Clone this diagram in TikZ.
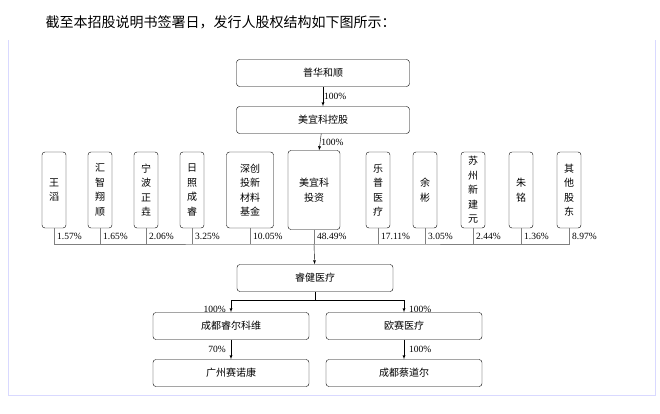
\documentclass[tikz,border=0pt]{standalone}
\usepackage{fontspec}
\setmainfont{Liberation Serif}
\newfontfamily\cjk{Noto Sans CJK SC}
\usetikzlibrary{positioning, calc}

\begin{document}
\begin{tikzpicture}[
    x=1pt, y=-1pt,
    font=\fontsize{9.5}{11}\selectfont,
    wide/.style={
      draw, rounded corners=3pt, align=center, minimum width=156pt, minimum height=27pt, font=\cjk\fontsize{10}{11}\selectfont
    },
    narrow/.style={
      draw, rounded corners=3pt, align=center, minimum width=24pt, minimum height=76pt, inner sep=1pt, font=\cjk\fontsize{10}{14.5}\selectfont
    },
    pct/.style={
      inner sep=1pt, font=\fontsize{9.5}{11}\selectfont
    },
    >=latex,
  ]
    \useasboundingbox (0,0) rectangle (660,413);
    \draw [blue!15, line width=1pt] (8,40) -- (8,395) -- (655,395) -- (655,40);

    % title
    \node [anchor=west] (title) at (42,22) {\cjk\fontsize{14}{16}\selectfont 截至本招股说明书签署日，发行人股权结构如下图所示：};

    % top chain
    \node [wide, minimum width=173pt] (puhua) at (323,73) {普华和顺};
    \node [wide, minimum width=173pt] (holding) at (323,120) {美宜科控股};
    \draw [->] (puhua) -- (holding) node [pct, midway, right] {100\%};

    % shareholders
    \node [narrow] (wangtao) at (54,190) {王\\滔};
    \node [narrow] (huizhi) at (100,190) {汇\\智\\翔\\顺};
    \node [narrow] (ningbo) at (146,190) {宁\\波\\正\\垚};
    \node [narrow] (rizhao) at (192,190) {日\\照\\成\\睿};
    \node [narrow, minimum width=47pt] (shenchuang) at (250,190) {深创\\投新\\材料\\基金};
    \node [narrow, minimum width=52pt, minimum height=79pt] (invest) at (314,190) {美宜科\\投资};
    \node [narrow] (lepu) at (378,190) {乐\\普\\医\\疗};
    \node [narrow] (yubin) at (425,190) {余\\彬};
    \node [narrow] (suzhou) at (473,190) {苏\\州\\新\\建\\元};
    \node [narrow] (zhuming) at (521,190) {朱\\铭};
    \node [narrow] (others) at (569,190) {其\\他\\股\\东};
    \draw [->] (holding) -- (invest) node [pct, midway, right] {100\%};

    % collecting line
    \coordinate (bus) at (314,244);
    \draw [gray] (wangtao.south) |- (bus) -| (others.south);
    \foreach \n/\p in {wangtao/1.57, huizhi/1.65, ningbo/2.06, rizhao/3.25, shenchuang/10.05, invest/48.49, lepu/17.11, yubin/3.05, suzhou/2.44, zhuming/1.36, others/8.97} {
      \draw [gray] (\n.south) -- (\n.south |- bus);
      \node [pct, anchor=west] at ($(\n.south |- bus)+(2,-8)$) {\p\%};
    }

    % lower part
    \node [wide] (ruijian) at (315,278) {睿健医疗};
    \draw [->] (bus) -- (ruijian);
    \node [wide] (chengdu) at (231,326) {成都睿尔科维};
    \node [wide] (ousai) at (404,326) {欧赛医疗};
    \node [wide] (guangzhou) at (231,373) {广州赛诺康};
    \node [wide] (caidaoer) at (404,373) {成都蔡道尔};
    \coordinate (split) at (315,300);
    \draw (ruijian) -- (split);
    \draw [->] (split) -| (chengdu.north) node [pct, pos=0.9, left=4pt] {100\%};
    \draw [->] (split) -| (ousai.north) node [pct, pos=0.9, right=4pt] {100\%};
    \draw [->] (chengdu) -- (guangzhou) node [pct, midway, left=4pt] {70\%};
    \draw [->] (ousai) -- (caidaoer) node [pct, midway, right=4pt] {100\%};
  \end{tikzpicture}
\end{document}
